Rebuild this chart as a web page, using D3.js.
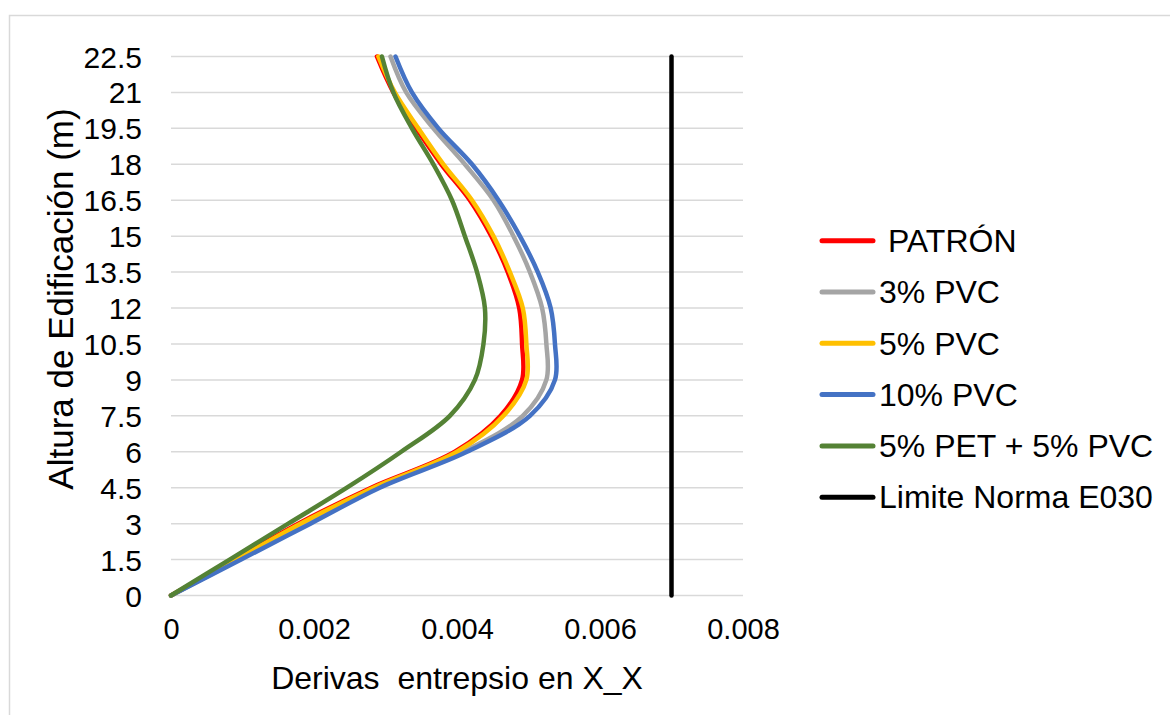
<!DOCTYPE html>
<html><head><meta charset="utf-8">
<script src="https://cdn.jsdelivr.net/npm/d3@7"></script>
<style>body{margin:0;background:#fff}svg{display:block}text{font-family:Arial,"Liberation Sans",sans-serif;fill:#000}</style>
</head><body>
<svg id="c" width="1170" height="715"></svg>
<script>
// Heights (m)
const heights = [0,1.5,3,4.5,6,7.5,9,10.5,12,13.5,15,16.5,18,19.5,21,22.5];
const patron   = [0,0.00089,0.00178,0.00280,0.00397,0.00461,0.00491,0.00491,0.00487,0.00471,0.00448,0.00418,0.00378,0.00343,0.00311,0.00288];
const pvc3     = [0,0.00095,0.00189,0.00288,0.00409,0.00492,0.00525,0.00525,0.00519,0.00502,0.00479,0.00451,0.00411,0.00367,0.00329,0.00307];
const pvc5     = [0,0.00091,0.00181,0.00283,0.00400,0.00465,0.00497,0.00497,0.00492,0.00474,0.00451,0.00421,0.00381,0.00346,0.00313,0.00290];
const pvc10    = [0,0.00098,0.00195,0.00292,0.00414,0.00502,0.00537,0.00537,0.00531,0.00513,0.00488,0.00458,0.00421,0.00374,0.00337,0.00314];
const pet5pvc5 = [0,0.00082,0.00164,0.00246,0.00322,0.00390,0.00425,0.00437,0.00439,0.00428,0.00411,0.00393,0.00367,0.00337,0.00311,0.00295];
const limitX   = [0.007,0.007];
const limitY   = [0,22.5];
const seriesNames = [" PATRÓN","3% PVC","5% PVC","10% PVC","5% PET + 5% PVC","Limite Norma E030"];
const seriesColors = ["#FF0000","#A5A5A5","#FFC000","#4472C4","#548235","#000000"];
const xTicks = [0,0.002,0.004,0.006,0.008];
const yTicks = [0,1.5,3,4.5,6,7.5,9,10.5,12,13.5,15,16.5,18,19.5,21,22.5];
const xTitle = "Derivas  entrepsio en X_X";
const yTitle = "Altura de Edificación (m)";

const svg = d3.select("#c");
svg.append("rect").attr("x",9.5).attr("y",15.5).attr("width",1300).attr("height",900)
  .attr("fill","#fff").attr("stroke","#d9d9d9").attr("stroke-width",1.5);

const x = d3.scaleLinear().domain([0,0.008]).range([171,743]);
const y = d3.scaleLinear().domain([0,22.5]).range([595.5,56.5]);

svg.append("g").selectAll("line").data(yTicks).join("line")
  .attr("x1",x(0)).attr("x2",x(0.008)).attr("y1",d=>y(d)).attr("y2",d=>y(d))
  .attr("stroke","#d9d9d9").attr("stroke-width",1.5);

const yAxis = d3.axisLeft(y).tickValues(yTicks).tickSize(0).tickPadding(0).tickFormat(d=>String(d));
const gy = svg.append("g").attr("transform","translate(142,0)").call(yAxis);
gy.select(".domain").remove();
gy.selectAll("text").attr("font-size",30).attr("font-family","Arial, Liberation Sans").attr("fill","#000").attr("dy","0.35em");

const xAxis = d3.axisBottom(x).tickValues(xTicks).tickSize(0).tickPadding(0).tickFormat(d=>String(d));
const gx = svg.append("g").attr("transform","translate(0,618)").call(xAxis);
gx.select(".domain").remove();
gx.selectAll("text").attr("font-size",29).attr("font-family","Arial, Liberation Sans").attr("fill","#000").attr("dy","0.71em");

svg.append("text").attr("x",457).attr("y",689).attr("text-anchor","middle").attr("font-size",32).text(xTitle).style("white-space","pre");
svg.append("text").attr("transform","translate(73,299) rotate(-90)").attr("text-anchor","middle").attr("font-size",35).text(yTitle);

const data = [patron,pvc3,pvc5,pvc10,pet5pvc5];
const line = d3.line().x(d=>x(d[0])).y(d=>y(d[1])).curve(d3.curveCatmullRom.alpha(0.5));
const g = svg.append("g");
data.forEach((vals,i)=>{
  g.append("path").datum(vals.map((v,j)=>[v,heights[j]]))
    .attr("d",line).attr("fill","none").attr("stroke",seriesColors[i])
    .attr("stroke-width",4.5).attr("stroke-linecap","round").attr("stroke-linejoin","round");
});
g.append("path").datum(limitX.map((v,j)=>[v,limitY[j]]))
  .attr("d",d3.line().x(d=>x(d[0])).y(d=>y(d[1]))).attr("fill","none").attr("stroke","#000")
  .attr("stroke-width",4.5).attr("stroke-linecap","round");

const lg = svg.append("g");
seriesNames.forEach((n,i)=>{
  const yy = 240.7 + i*51.3;
  lg.append("line").attr("x1",822).attr("x2",873).attr("y1",yy).attr("y2",yy)
    .attr("stroke",seriesColors[i]).attr("stroke-width",5).attr("stroke-linecap","round");
  lg.append("text").attr("x",879).attr("y",yy).attr("dy","0.35em").attr("font-size",32)
    .style("white-space","pre").text(n);
});
</script>
</body></html>
